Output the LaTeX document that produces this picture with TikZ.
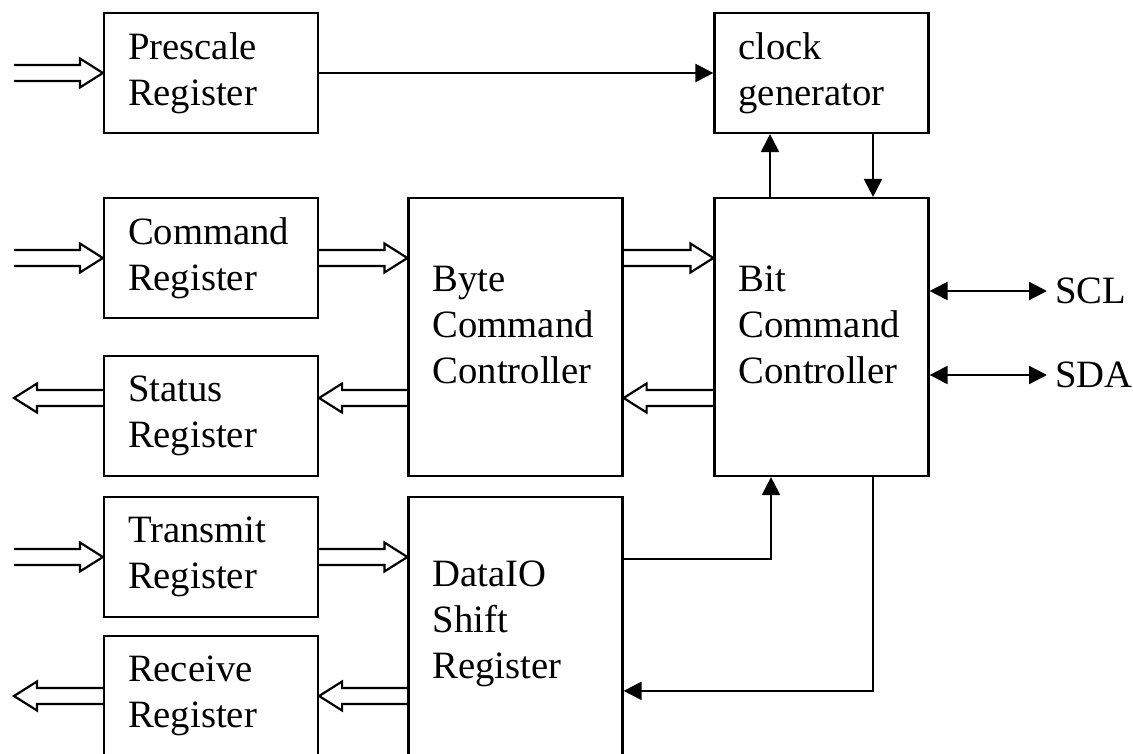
\documentclass[tikz,border=0pt]{standalone}
\usepackage{fontspec}
\setmainfont{Liberation Serif}
\usetikzlibrary{arrows.meta,calc}

\tikzset{
  reg/.style={draw, line width=2.2pt, minimum width=214pt, minimum height=120pt,
    text width=166pt, inner xsep=24pt, align=left, font=\fontsize{38.7}{46}\selectfont},
  tall/.style={reg, minimum height=278pt},
  txt/.style={text width=166pt, inner sep=0pt, align=left, yshift=12pt, font=\fontsize{38.7}{46}\selectfont},
  sig/.style={anchor=west, inner sep=8pt, font=\fontsize{38.7}{46}\selectfont},
  wire/.style={line width=2.2pt},
  >={Triangle[length=18pt,width=18pt]}
}

% hollow bus arrow between two points of the same height
\newcommand{\fatarrow}[2]{%
  \draw[wire, line join=miter] let \p1=(#1), \p2=(#2), \n1={sign(\x2-\x1)} in
    (\x1,\y1+8) -- (\x2-23*\n1,\y1+8) -- (\x2-23*\n1,\y1+14.5) -- (\x2,\y1)
    -- (\x2-23*\n1,\y1-14.5) -- (\x2-23*\n1,\y1-8) -- (\x1,\y1-8);
}

\begin{document}
\begin{tikzpicture}[x=1pt, y=-1pt]
	\useasboundingbox (0,0) rectangle (1133,754);
	\clip (0,0) rectangle (1133,754);

	% registers
	\node[reg] (prescale) at (211,73) {Prescale\\Register};
	\node[reg] (command) at (211,258) {Command\\Register};
	\node[reg] (status) at (211,416) {Status\\Register};
	\node[reg] (transmit) at (211,557) {Transmit\\Register};
	\node[reg] (receive) at (211,696) {Receive\\Register};
	\node[reg] (clock) at (821.5,73) {clock\\generator};

	% controllers
	\node[tall, label={[txt]center:Byte\\Command\\Controller}] (byte) at (515.5,337) {};
	\node[tall, label={[txt]center:Bit\\Command\\Controller}] (bit) at (821.5,337) {};
	\node[tall, label={[txt]center:DataIO\\Shift\\Register}] (dataio) at (515.5,636) {};

	\node[sig] (scl) at (1047,291) {SCL};
	\node[sig] (sda) at (1047,375) {SDA};

	% bus arrows
	\coordinate (busp) at (14,73);
	\coordinate (busc) at (14,258);
	\coordinate (buss) at (14,398);
	\coordinate (bust) at (14,557);
	\coordinate (busr) at (14,696);
	\fatarrow{busp}{prescale.west}
	\fatarrow{busc}{command.west}
	\fatarrow{command.east}{byte.west |- command.east}
	\fatarrow{byte.east |- command.east}{bit.west |- command.east}
	\fatarrow{bit.west |- buss}{byte.east |- buss}
	\fatarrow{byte.west |- buss}{status.east |- buss}
	\fatarrow{status.west |- buss}{buss}
	\fatarrow{bust}{transmit.west}
	\fatarrow{transmit.east}{dataio.west |- transmit.east}
	\fatarrow{dataio.west |- busr}{receive.east |- busr}
	\fatarrow{receive.west |- busr}{busr}

	% control lines
	\draw[wire,->] (prescale.east) -- (clock.west);
	\draw[wire,->] ([xshift=-51.5pt]bit.north) -- ([xshift=-51.5pt]clock.south);
	\draw[wire,->] ([xshift=51.5pt]clock.south) -- ([xshift=51.5pt]bit.north);
	\draw[wire,<->] (bit.east |- scl.west) -- (scl.west);
	\draw[wire,<->] (bit.east |- sda.west) -- (sda.west);
	\draw[wire,->] ([yshift=-63pt]dataio.north east) -| ([xshift=-50.5pt]bit.south);
	\draw[wire,->] ([xshift=51.5pt]bit.south) |- ([yshift=-195pt]dataio.north east);
\end{tikzpicture}
\end{document}
